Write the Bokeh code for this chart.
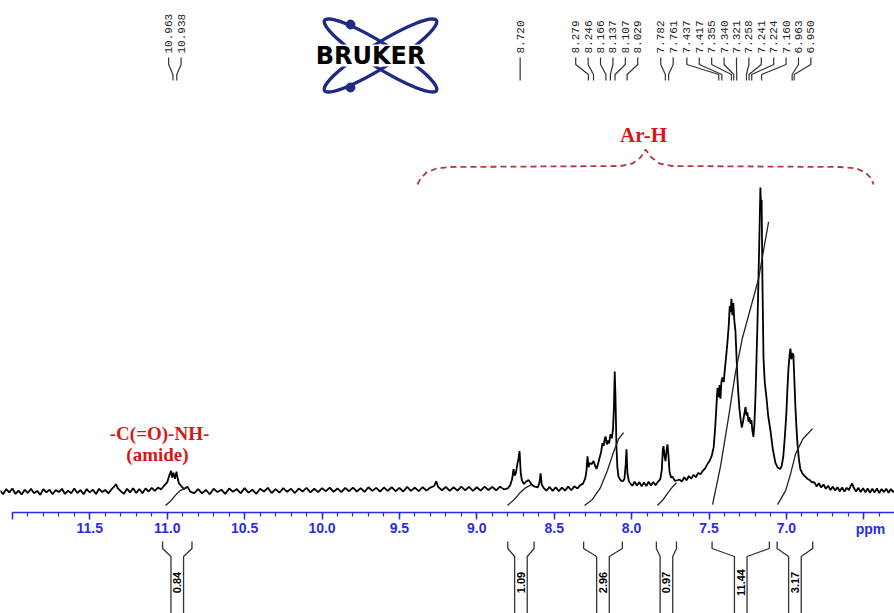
import numpy as np
from bokeh.plotting import figure
from bokeh.models import Range1d, LinearAxis, SingleIntervalTicker, PrintfTickFormatter
from bokeh.core.properties import value
from bokeh.embed import file_html
from bokeh.resources import INLINE

# ---------------- data ----------------
# spectrum: chemical shift (ppm) and intensity (tallest peak = 100)
SPEC_A_PPM = [12.08, 12.06, 12.04, 12.02, 12.00, 11.98, 11.96, 11.94, 11.92, 11.90, 11.88, 11.86,
              11.84, 11.82, 11.80, 11.78, 11.76, 11.74, 11.72, 11.70, 11.68, 11.66, 11.64, 11.62,
              11.60, 11.58, 11.56, 11.54, 11.52, 11.50, 11.48, 11.46, 11.44, 11.42, 11.40, 11.38,
              11.36, 11.34, 11.33, 11.32, 11.30, 11.28, 11.26, 11.24, 11.22, 11.20, 11.18, 11.16,
              11.14, 11.12, 11.10, 11.08, 11.06, 11.04, 11.02, 11.00, 10.985, 10.975, 10.968,
              10.96, 10.95, 10.94, 10.935, 10.925, 10.91, 10.89, 10.87, 10.85]
SPEC_A_INT = [0.4, -0.9, 0.8, -0.3, 1.0, -0.8, 0.3, -1.0, 0.6, -0.5, 0.9, -0.6,
              0.2, -1.1, 0.8, -0.3, 0.6, -0.9, 0.5, -0.2, 0.9, -0.8, 0.3, -0.6,
              1.0, -0.5, 0.5, -0.9, 0.8, -0.3, 0.6, -0.8, 0.9, -0.2, 0.5, -0.6,
              0.7, 1.8, 2.4, 1.1, 0.1, -0.8, 0.9, -0.3, 1.1, -0.5, 0.8, -0.6,
              1.0, 0.0, 1.2, 0.2, 1.3, 0.7, 1.9, 3.0, 5.5, 6.8, 4.6,
              6.2, 4.2, 6.5, 5.0, 2.8, 1.8, 0.8, 1.6, -0.1]

SPEC_B_PPM = [10.825, 10.800, 10.775, 10.750, 10.725, 10.700, 10.675, 10.650, 10.625, 10.600,
              10.575, 10.550, 10.525, 10.500, 10.475, 10.450, 10.425, 10.400, 10.375, 10.350,
              10.325, 10.300, 10.275, 10.250, 10.225, 10.200, 10.175, 10.150, 10.125, 10.100,
              10.075, 10.050, 10.025, 10.000, 9.975, 9.950, 9.925, 9.900, 9.875, 9.850,
              9.825, 9.800, 9.775, 9.750, 9.725, 9.700, 9.675, 9.650, 9.625, 9.600,
              9.575, 9.550, 9.525, 9.500, 9.475, 9.450, 9.425, 9.400, 9.375, 9.350,
              9.325, 9.300, 9.275, 9.262, 9.250, 9.225, 9.200, 9.175, 9.150, 9.125,
              9.100, 9.075, 9.050, 9.025, 9.000, 8.975, 8.950, 8.925, 8.900, 8.875,
              8.850, 8.825]
SPEC_B_INT = [-0.5, 0.8, -0.6, 0.5, -0.9, 0.9, -0.2, 0.6, -0.8, 1.0,
              -0.1, 0.8, -0.6, 1.1, -0.4, 0.6, -0.8, 0.9, 0.0, 1.2,
              -0.5, 0.8, -0.4, 1.1, -0.1, 0.9, -0.5, 1.0, 0.0, 1.2,
              -0.3, 0.9, -0.2, 1.1, 0.1, 1.3, -0.1, 1.0, -0.2, 1.2,
              0.1, 1.3, 0.0, 1.1, -0.1, 1.4, 0.2, 1.2, 0.0, 1.3,
              0.2, 1.4, 0.1, 1.2, 0.0, 1.5, 0.2, 1.3, 0.1, 1.4,
              0.3, 1.3, 1.8, 3.4, 1.5, 0.4, 1.5, 0.2, 1.4, 0.3,
              1.6, 0.4, 1.5, 0.2, 1.4, 0.3, 1.6, 0.5, 1.5, 0.4,
              1.6, 0.7]

SPEC_C_PPM = [8.800, 8.785, 8.772, 8.763, 8.756, 8.748, 8.738, 8.730, 8.724, 8.716, 8.708, 8.695,
              8.680, 8.666, 8.652, 8.640, 8.625, 8.605, 8.595, 8.588, 8.580, 8.570, 8.55, 8.53,
              8.51, 8.49, 8.47, 8.45, 8.43, 8.41, 8.39, 8.37, 8.35, 8.33, 8.315, 8.300,
              8.292, 8.285, 8.278, 8.270, 8.259, 8.246, 8.236, 8.227, 8.217, 8.207, 8.197, 8.188,
              8.180, 8.175, 8.168, 8.160, 8.152, 8.145, 8.137, 8.128, 8.120, 8.114, 8.109, 8.104,
              8.098, 8.092, 8.085, 8.075, 8.066, 8.055, 8.046, 8.038, 8.033, 8.027, 8.018, 8.008,
              7.995, 7.98, 7.965, 7.95, 7.935, 7.92, 7.905, 7.89, 7.875, 7.86, 7.845, 7.830,
              7.815, 7.805, 7.798, 7.794, 7.788, 7.781, 7.774, 7.768, 7.762, 7.755, 7.745, 7.735,
              7.72, 7.705, 7.69, 7.675, 7.66, 7.645, 7.63, 7.615, 7.60, 7.585, 7.57, 7.555,
              7.54, 7.525, 7.51, 7.495, 7.482, 7.470, 7.460, 7.452, 7.445, 7.438, 7.432, 7.426,
              7.420, 7.413, 7.405, 7.398, 7.390, 7.380, 7.372, 7.366, 7.360, 7.355, 7.349, 7.343,
              7.336, 7.329, 7.322, 7.316, 7.309, 7.303, 7.295, 7.288, 7.280, 7.272, 7.264, 7.258,
              7.252, 7.245, 7.239, 7.232, 7.226, 7.220, 7.213, 7.207, 7.200, 7.193, 7.187, 7.180,
              7.174, 7.168, 7.164, 7.160, 7.155, 7.148, 7.140, 7.129, 7.118, 7.103, 7.088, 7.071,
              7.055, 7.039, 7.030, 7.020, 7.010, 7.000, 6.994, 6.986, 6.979, 6.974, 6.968, 6.962,
              6.955, 6.948, 6.942, 6.935, 6.929, 6.920, 6.910, 6.895, 6.880, 6.865, 6.85, 6.835,
              6.82, 6.805, 6.79, 6.775, 6.76, 6.745, 6.73, 6.715, 6.70, 6.685, 6.67, 6.655,
              6.64, 6.625, 6.61, 6.595, 6.585, 6.575, 6.565, 6.55, 6.535, 6.52, 6.505, 6.49,
              6.475, 6.46, 6.445, 6.43, 6.415, 6.40, 6.385, 6.37, 6.355, 6.34, 6.325, 6.31, 6.30]
SPEC_C_INT = [1.0, 2.0, 4.0, 7.4, 5.2, 6.0, 9.0, 11.0, 13.3, 6.0, 3.5, 2.5,
              3.3, 3.8, 2.8, 2.0, 1.6, 1.4, 3.0, 6.0, 2.2, 1.3, 0.3, 1.5,
              0.2, 1.4, 0.1, 1.3, 0.3, 1.6, 0.4, 1.7, 1.0, 2.2, 2.5, 4.2,
              6.5, 11.6, 8.0, 9.4, 9.0, 10.0, 8.5, 7.4, 9.0, 11.0, 13.0, 15.9,
              15.0, 17.0, 18.1, 15.5, 16.8, 15.8, 18.8, 17.5, 20.5, 28.0, 39.5, 31.0,
              15.0, 8.0, 5.0, 4.0, 3.5, 3.4, 4.2, 9.0, 13.9, 6.0, 3.5, 2.6,
              1.9, 3.2, 1.9, 3.1, 1.7, 3.0, 1.8, 3.2, 2.0, 3.1, 2.1, 3.2,
              4.0, 7.0, 14.0, 14.9, 12.0, 10.0, 13.5, 15.5, 12.0, 6.5, 4.6, 4.8,
              3.5, 3.7, 3.9, 3.3, 4.7, 3.7, 5.1, 4.2, 5.5, 4.7, 6.1, 5.7,
              6.8, 7.6, 9.0, 10.2, 11.8, 14.5, 21.0, 28.0, 34.0, 31.0, 35.0, 30.5,
              36.0, 37.5, 36.0, 40.0, 44.0, 49.5, 55.0, 61.0, 59.0, 63.4, 58.0, 62.0,
              56.0, 52.7, 44.0, 37.0, 31.0, 27.0, 23.5, 21.0, 23.0, 25.5, 27.8, 25.0,
              26.0, 23.0, 24.5, 22.3, 23.5, 20.0, 18.0, 22.0, 31.0, 44.0, 55.0, 71.0,
              85.0, 100.0, 93.0, 96.0, 70.0, 44.0, 36.0, 31.0, 25.0, 20.0, 14.0, 9.4,
              7.8, 7.4, 8.5, 11.6, 18.0, 26.0, 33.0, 41.0, 45.0, 47.0, 43.5, 45.5,
              45.0, 36.0, 28.0, 21.0, 16.0, 11.0, 7.4, 5.8, 5.0, 4.2, 3.8, 3.0,
              3.1, 1.7, 2.7, 1.3, 2.3, 0.9, 1.9, 0.5, 1.6, 0.3, 1.4, 0.1,
              1.3, 0.0, 1.2, 0.5, 1.8, 2.6, 1.2, 0.0, 1.2, -0.2, 1.1, -0.3,
              1.0, -0.4, 0.9, -0.3, 1.0, -0.5, 0.8, -0.2, 0.9, -0.4, 0.8, -0.2, 0.4]

# integral curves (ppm, level in the same intensity units)
INTEGRAL_PPM = [[11.011, 10.979, 10.946, 10.914, 10.875],
                [8.802, 8.763, 8.724, 8.685, 8.647],
                [8.304, 8.253, 8.201, 8.156, 8.117, 8.085, 8.052],
                [7.833, 7.800, 7.768, 7.736, 7.710],
                [7.477, 7.425, 7.373, 7.329, 7.284, 7.232, 7.180, 7.141, 7.115],
                [7.057, 7.005, 6.973, 6.941, 6.895, 6.831]]
INTEGRAL_LEVEL = [[-4.6, -3.2, -1.2, 0.4, 1.3],
                  [-4.6, -2.9, -0.6, 1.2, 2.3],
                  [-4.6, -2.6, 1.3, 6.9, 12.9, 17.2, 19.4],
                  [-4.6, -2.9, -0.6, 1.5, 2.9],
                  [-4.3, 8.4, 24.6, 39.2, 50.5, 60.2, 69.9, 81.2, 88.7],
                  [-4.3, 0.3, 5.8, 12.3, 17.2, 20.7]]

# integration values and their regions
INT_VALUES = ["0.84", "1.09", "2.96", "0.97", "11.44", "3.17"]
INT_LEFT = [11.03, 8.80, 8.31, 7.84, 7.48, 7.06]
INT_RIGHT = [10.84, 8.63, 8.06, 7.71, 7.11, 6.83]

# peak picking labels (ppm)
PEAK_LABELS = [10.963, 10.938, 8.720, 8.279, 8.246, 8.166, 8.137, 8.107, 8.029,
               7.782, 7.761, 7.437, 7.417, 7.355, 7.340, 7.321, 7.258, 7.241,
               7.224, 7.160, 6.963, 6.950]

# annotations
ARH_TEXT = "Ar-H"
AMIDE_TEXT = ["-C(=O)-NH-", "(amide)"]
LOGO_TEXT = "BRUKER"

# ---------------- layout ----------------
W, H = 894, 613
PX_PER_PPM = 154.8
X_START = 11.0 + 166.7 / PX_PER_PPM
X_END = X_START - W / PX_PER_PPM
BASE_Y = H - 491          # baseline of the spectrum (data units = pixels from bottom)
SCALE = 3.04              # pixels per intensity unit
AXIS_Y = H - 512

BLUE = "#2b2be3"
RED = "#d81616"
BRACE = "#b43a3a"
NAVY = "#1f2a86"
NARROW = "Liberation Sans Narrow, Arial Narrow, Liberation Sans"


def px2ppm(px):
    return X_START - px / PX_PER_PPM


def ppm2px(ppm):
    return (X_START - ppm) * PX_PER_PPM


def yy(px):
    return H - px


p = figure(width=W, height=H, x_range=Range1d(X_START, X_END), y_range=Range1d(0, H),
           x_axis_type=None, y_axis_type=None, output_backend="svg",
           toolbar_location=None, min_border=0)
p.outline_line_color = None
p.background_fill_color = "white"
p.border_fill_color = "white"

# ppm axis
axis = LinearAxis(fixed_location=AXIS_Y,
                  ticker=SingleIntervalTicker(interval=0.5, num_minor_ticks=5),
                  formatter=PrintfTickFormatter(format="%.1f"),
                  bounds=(6.30, 12.0))
axis.axis_line_color = BLUE
axis.axis_line_width = 1.5
axis.major_tick_line_color = BLUE
axis.major_tick_line_width = 1.5
axis.major_tick_out = 7
axis.major_tick_in = 0
axis.minor_tick_line_color = BLUE
axis.minor_tick_line_width = 1.2
axis.minor_tick_out = 4
axis.minor_tick_in = 0
axis.major_label_text_color = BLUE
axis.major_label_text_font = NARROW
axis.major_label_text_font_style = "bold"
axis.major_label_text_font_size = "14px"
axis.major_label_standoff = 3
axis.major_label_overrides = {12.0: "", 6.5: ""}
p.add_layout(axis, "below")
p.text(x=[px2ppm(870)], y=[yy(528)], text=["ppm"], text_color=BLUE,
       text_font=value(NARROW), text_font_style="bold",
       text_font_size="14px", text_align="center", text_baseline="middle")

# spectrum
spec_ppm = SPEC_A_PPM + SPEC_B_PPM + SPEC_C_PPM
spec_int = SPEC_A_INT + SPEC_B_INT + SPEC_C_INT
p.line(spec_ppm, [BASE_Y + SCALE * v for v in spec_int], line_color="black", line_width=1.8)

# integral curves
p.multi_line(INTEGRAL_PPM, [[BASE_Y + SCALE * v for v in c] for c in INTEGRAL_LEVEL],
             line_color="#222222", line_width=1.3)

# integration brackets under the axis
hw = 6.3 / PX_PER_PPM
bx, by = [], []
for l, r in zip(INT_LEFT, INT_RIGHT):
    c = (l + r) / 2
    bx.append([l, l, c + hw, c + hw])
    by.append([yy(541), yy(548), yy(556), yy(620)])
    bx.append([r, r, c - hw, c - hw])
    by.append([yy(541), yy(548), yy(556), yy(620)])
p.multi_line(bx, by, line_color="#333333", line_width=1.3)
p.text(x=[(l + r) / 2 for l, r in zip(INT_LEFT, INT_RIGHT)], y=[yy(582)] * len(INT_VALUES),
       text=INT_VALUES, angle=np.pi / 2, text_font=value("Liberation Sans"),
       text_font_style="bold", text_font_size="11px", text_align="center",
       text_baseline="middle", text_color="black")

# peak labels spread in clusters
SP = 12.4
peaks_px = [ppm2px(v) for v in PEAK_LABELS]
groups = [[i] for i in range(len(peaks_px))]


def positions(g):
    m = sum(peaks_px[i] for i in g) / len(g)
    n = len(g)
    return [m + (k - (n - 1) / 2) * SP for k in range(n)]


merged = True
while merged:
    merged = False
    for j in range(len(groups) - 1):
        if positions(groups[j])[-1] + SP > positions(groups[j + 1])[0]:
            groups[j] = groups[j] + groups[j + 1]
            del groups[j + 1]
            merged = True
            break
lab_px = []
for g in groups:
    lab_px += positions(g)

p.text(x=[px2ppm(v) for v in lab_px], y=[yy(53)] * len(lab_px),
       text=["%.3f" % v for v in PEAK_LABELS], angle=np.pi / 2,
       text_font=value("Liberation Mono"), text_font_size="11px",
       text_align="left", text_baseline="middle", text_color="#222222")
cx, cy = [], []
for lx, pk in zip(lab_px, peaks_px):
    cx.append([px2ppm(lx), px2ppm(lx), px2ppm(pk), px2ppm(pk)])
    cy.append([yy(57), yy(64), yy(74), yy(80)])
p.multi_line(cx, cy, line_color="#333333", line_width=1.2)

# Ar-H brace
brace_px = [(417, 184), (420, 178), (426, 172), (436, 168), (450, 166.5), (620, 165.5),
            (632, 163), (640, 157), (645, 149), (651, 157), (659, 163), (672, 165.5),
            (840, 166.5), (856, 168), (865, 172), (871, 178), (873, 184)]
p.line([px2ppm(a) for a, b in brace_px], [yy(b) for a, b in brace_px],
       line_color=BRACE, line_width=1.8, line_dash="6 4")
p.text(x=[px2ppm(643)], y=[yy(134)], text=[ARH_TEXT], text_color=RED,
       text_font=value("Liberation Serif"), text_font_style="bold", text_font_size="21px",
       text_align="center", text_baseline="middle")
p.text(x=[px2ppm(159), px2ppm(157)], y=[yy(433), yy(454)], text=AMIDE_TEXT, text_color=RED,
       text_font=value("Liberation Serif"), text_font_style="bold", text_font_size="19px",
       text_align="center", text_baseline="middle")

# Bruker logo
lcx, lcy = px2ppm(380), yy(55)
p.ellipse(x=[lcx, lcx], y=[lcy, lcy], width=[132, 132], height=[24, 24], angle=[0.56, -0.56],
          width_units="screen", height_units="screen", fill_color=None,
          line_color=NAVY, line_width=3.4)
p.rect(x=[px2ppm(370)], y=[yy(55)], width=[150], height=[22], width_units="screen",
       height_units="screen", fill_color="white", line_color=None)
p.text(x=[px2ppm(370)], y=[yy(55)], text=[LOGO_TEXT], text_font=value("DejaVu Sans"),
       text_font_style="bold", text_font_size="24px", text_align="center",
       text_baseline="middle", text_color="black")
p.scatter(x=[px2ppm(350), px2ppm(350)], y=[yy(24), yy(87)], size=9, color=NAVY)

open("out.html", "w").write(file_html(p, INLINE))
